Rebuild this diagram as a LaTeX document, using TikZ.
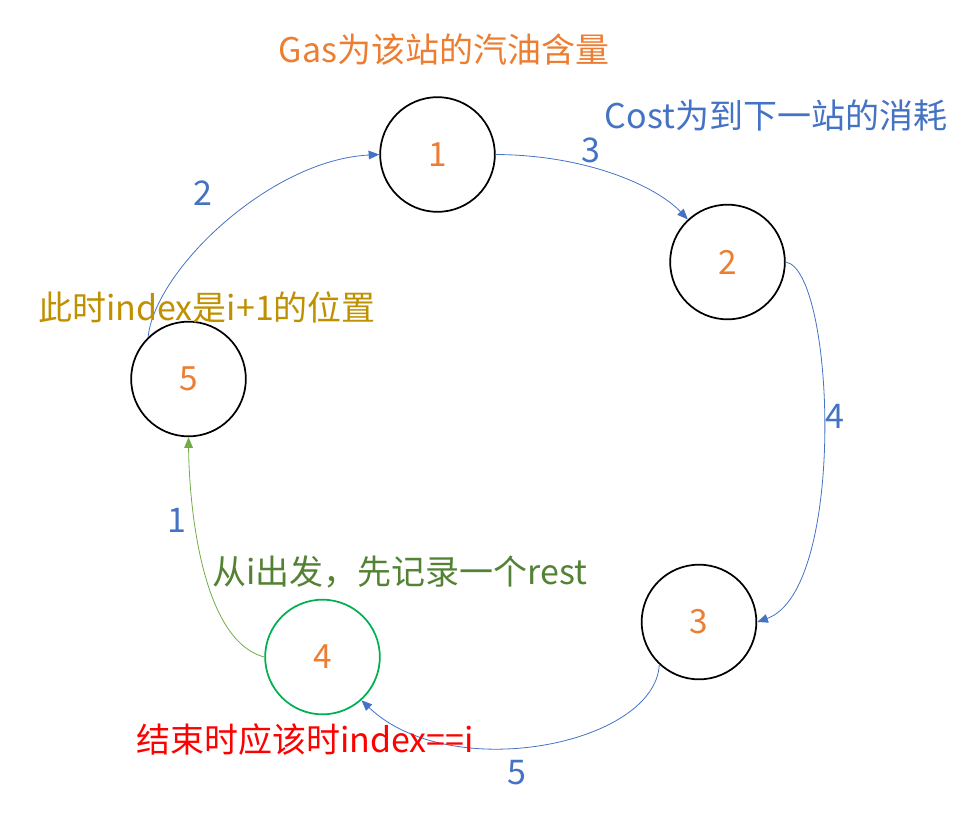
\documentclass[tikz,border=0pt]{standalone}
\usepackage{fontspec}
\setmainfont{Noto Sans CJK SC}
\usetikzlibrary{arrows.meta}
\definecolor{orng}{HTML}{ED7D31}
\definecolor{blu}{HTML}{4472C4}
\definecolor{lgreen}{HTML}{70AD47}
\definecolor{cgreen}{HTML}{00B050}
\definecolor{dgreen}{HTML}{548235}
\definecolor{gold}{HTML}{BF9000}
\begin{document}
\begin{tikzpicture}[x=0.75pt,y=-0.75pt,
  txt/.style={font=\fontsize{25.5}{29}\selectfont, inner sep=0pt},
  station/.style={circle, draw=black, line width=1.3pt, minimum size=86pt, inner sep=0pt,
     text=orng, font=\fontsize{25}{29}\selectfont},
  edge/.style={draw=blu, line width=0.6pt, -{Triangle[length=8pt,width=6.5pt]}},
  gedge/.style={draw=lgreen, line width=0.6pt, -{Triangle[length=8pt,width=6.5pt]}},
  elabel/.style={txt, text=blu}]
\useasboundingbox (0,0) rectangle (973,818);

\node[station] (n1) at (437.5,154.5) {1};
\node[station] (n2) at (727.5,262) {2};
\node[station] (n3) at (699,622) {3};
\node[station, draw=cgreen] (n4) at (322.5,657) {4};
\node[station] (n5) at (188.5,379) {5};

\draw[edge] (n1.east) .. controls (585,155) and (655,185) .. (n2.133);
\draw[edge] (n2.east) .. controls (835,270) and (847,590) .. (n3.east);
\draw[edge] (n3.-133) .. controls (655,745) and (450,785) .. (n4.-48);
\draw[gedge] (n4.west) .. controls (200,640) and (189,500) .. (n5.south);
\draw[edge] (n5.134) .. controls (155,270) and (270,160) .. (n1.west);

\node[elabel] (l3) at (591,150) {3};
\node[elabel] (l4) at (835,416) {4};
\node[elabel] (l5) at (517,773) {5};
\node[elabel] (l1) at (177,520) {1};
\node[elabel] (l2) at (203,193) {2};

\node[txt, text=orng] (gas) at (444,50) {Gas为该站的汽油含量};
\node[txt, text=blu] (cost) at (776,116) {Cost为到下一站的消耗};
\node[txt, text=gold] (idx) at (207,307) {此时index是i+1的位置};
\node[txt, text=dgreen] (start) at (400,572) {从i出发，先记录一个rest};
\node[txt, text=red] (endt) at (305,740) {结束时应该时index==i};
\end{tikzpicture}
\end{document}
